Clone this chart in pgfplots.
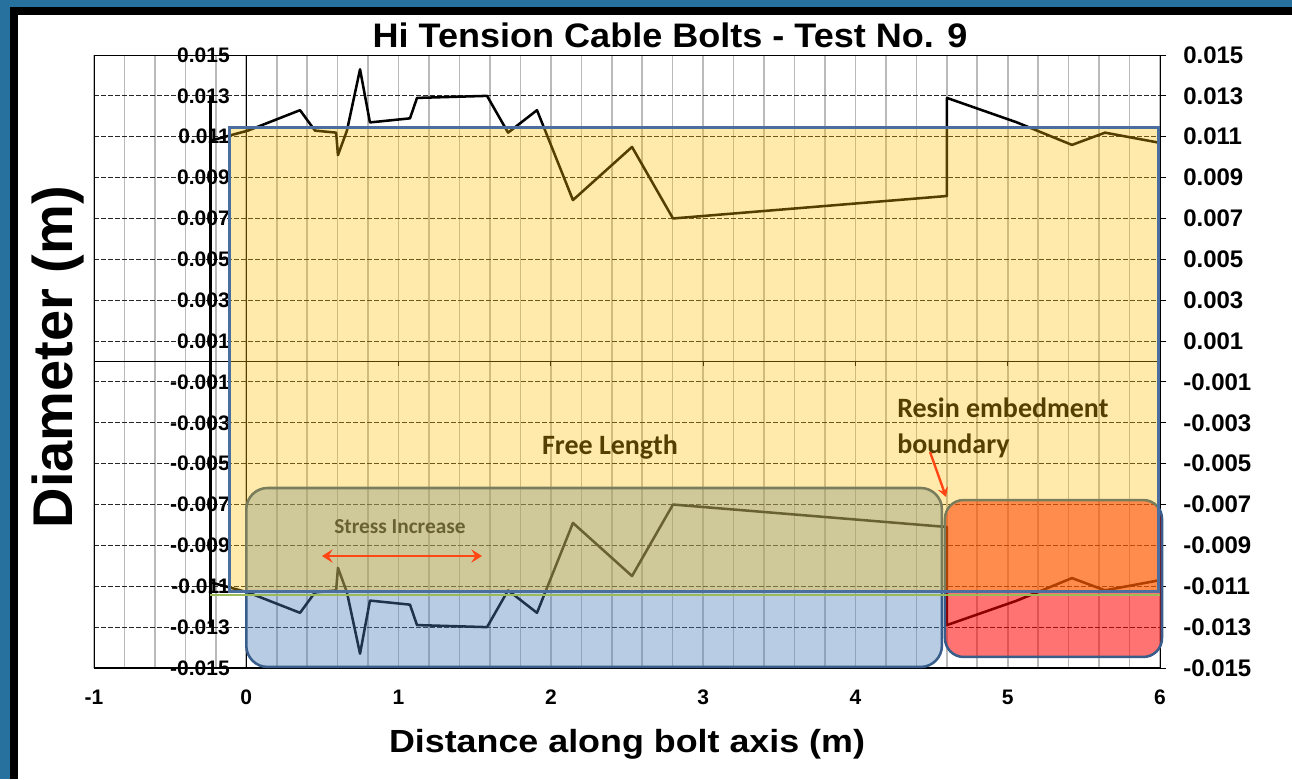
\documentclass[border=0pt]{standalone}
\usepackage{pgfplots}
\pgfplotsset{compat=1.18}
\usepackage{fontspec}
\setmainfont{Liberation Sans}
\newfontfamily\arialS[FakeStretch=1.06]{Liberation Sans}
\newfontfamily\arialX[FakeStretch=1.12]{Liberation Sans}
\newfontfamily\calibri{Carlito}
\usetikzlibrary{arrows.meta}
\definecolor{frameblue}{RGB}{38,113,158}
\definecolor{shyellow}{RGB}{255,192,0}
\definecolor{yborder}{RGB}{74,110,160}
\definecolor{shblue}{RGB}{79,129,189}
\definecolor{bborder}{RGB}{56,93,138}
\definecolor{shred}{RGB}{255,0,0}
\definecolor{lgreen}{RGB}{155,187,89}
\definecolor{arrowred}{RGB}{255,70,20}
\begin{document}
\begin{tikzpicture}
\useasboundingbox (0pt,0pt) rectangle (969pt,584.25pt);
\fill[white] (0pt,0pt) rectangle (969pt,584.25pt);
\begin{axis}[
  at={(70.5pt,83.25pt)}, anchor=south west,
  scale only axis, width=799.5pt, height=459.75pt,
  xmin=-1, xmax=6, ymin=-0.015, ymax=0.015,
  clip=false,
  scaled y ticks=false, scaled x ticks=false,
  axis line style={black, line width=0.75pt},
  xtick={-1,0,1,2,3,4,5,6},
  xticklabels={-1,0,1,2,3,4,5,6},
  minor x tick num=4,
  ytick={-0.015,-0.013,-0.011,-0.009,-0.007,-0.005,-0.003,-0.001,0.001,0.003,0.005,0.007,0.009,0.011,0.013,0.015},
  yticklabels={-0.015,-0.013,-0.011,-0.009,-0.007,-0.005,-0.003,-0.001,0.001,0.003,0.005,0.007,0.009,0.011,0.013,0.015},
  ytick pos=right, yticklabel pos=right,
  xtick pos=bottom,
  tick align=outside, major tick length=4.5pt,
  xtick style={draw=none}, minor tick style={draw=none},
  ytick style={black, line width=0.75pt},
  xmajorgrids, xminorgrids, ymajorgrids,
  x grid style={black!27, line width=1.2pt},
  y grid style={black!85, line width=0.75pt, dash pattern=on 3.75pt off 1.5pt},
  xticklabel style={font=\bfseries\fontsize{15.75}{18}\selectfont, inner sep=0pt, anchor=north, yshift=-11.6pt},
  yticklabel style={font=\bfseries\fontsize{18}{20}\selectfont, inner sep=0pt, anchor=west, xshift=12.75pt},
]
% data: upper profile
\addplot[black, line width=1.9pt, line join=round, mark=none] coordinates {
(-0.238,0.0108) (0.011,0.0113) (0.353,0.0123) (0.451,0.0113) (0.59,0.0112)
(0.602,0.0101) (0.661,0.0113) (0.747,0.0143) (0.812,0.0117) (1.075,0.0119)
(1.121,0.0129) (1.581,0.0130) (1.719,0.0112) (1.909,0.0123) (2.145,0.0079)
(2.533,0.0105) (2.802,0.0070) (4.601,0.0081) (4.601,0.0129) (5.061,0.0117)
(5.422,0.0106) (5.639,0.0112) (6.0,0.0107)
};
% data: lower profile
\addplot[black, line width=1.9pt, line join=round, mark=none] coordinates {
(-0.238,-0.0108) (0.011,-0.0113) (0.353,-0.0123) (0.451,-0.0113) (0.59,-0.0112)
(0.602,-0.0101) (0.661,-0.0113) (0.747,-0.0143) (0.812,-0.0117) (1.075,-0.0119)
(1.121,-0.0129) (1.581,-0.0130) (1.719,-0.0112) (1.909,-0.0123) (2.145,-0.0079)
(2.533,-0.0105) (2.802,-0.0070) (4.601,-0.0081) (4.601,-0.0129) (5.061,-0.0117)
(5.422,-0.0106) (5.639,-0.0112) (6.0,-0.0107)
};
% bolt head line
\addplot[black, line width=2.3pt, mark=none] coordinates {(-0.238,0.0130) (-0.238,-0.0130)};
% axis cross lines
\draw[black, line width=0.75pt] (axis cs:-1,0) -- (axis cs:6,0);
\draw[black, line width=0.75pt] (axis cs:0,-0.015) -- (axis cs:0,0.015);
\draw[black, line width=1.5pt] (axis cs:-1,-0.015) -- (axis cs:6,-0.015);
\pgfplotsinvokeforeach{-1,0,1,2,3,4,5,6}{\draw[black, line width=0.75pt] (axis cs:#1,0) -- ++(0pt,-3pt);}
% left-side labels
\pgfplotsinvokeforeach{0.015,0.013,0.011,0.009,0.007,0.005,0.003,0.001,-0.001,-0.003,-0.005,-0.007,-0.009,-0.011,-0.013,-0.015}{
  \node[anchor=east, inner sep=0pt, font=\bfseries\fontsize{15.75}{18}\selectfont] at (axis cs:-0.107,#1) {#1};
}
% annotation texts
\node[anchor=base, inner sep=0pt, font=\calibri\bfseries\fontsize{21}{24}\selectfont] at (axis cs:2.388,-0.00457) {Free Length};
\node[anchor=base west, inner sep=0pt, font=\calibri\bfseries\fontsize{21}{24}\selectfont] at (axis cs:4.273,-0.00276) {Resin embedment};
\node[anchor=base west, inner sep=0pt, font=\calibri\bfseries\fontsize{21}{24}\selectfont] at (axis cs:4.273,-0.00448) {boundary};
\node[anchor=base, inner sep=0pt, font=\calibri\bfseries\fontsize{16}{19}\selectfont] at (axis cs:1.009,-0.00843) {Stress Increase};
% shapes
\draw[bborder, line width=1.9pt, fill=shblue, fill opacity=0.4, draw opacity=1, rounded corners=16pt]
  (axis cs:0.0,-0.00619) rectangle (axis cs:4.568,-0.01495);
\draw[bborder, line width=1.9pt, fill=shred, fill opacity=0.55, draw opacity=1, rounded corners=14pt]
  (axis cs:4.588,-0.00678) rectangle (axis cs:6.013,-0.01446);
\draw[lgreen, line width=1.5pt] (axis cs:-0.238,-0.01142) -- (axis cs:6.0,-0.01142);
\draw[yborder, line width=2.25pt, fill=shyellow, fill opacity=0.33, draw opacity=1]
  (axis cs:-0.107,0.011476) rectangle (axis cs:5.987,-0.01128);
% arrows
\draw[arrowred, line width=2.2pt, {Stealth[length=8pt,width=10pt,inset=3pt]}-{Stealth[length=8pt,width=10pt,inset=3pt]}]
  (axis cs:0.497,-0.00952) -- (axis cs:1.548,-0.00952);
\draw[arrowred, line width=1.8pt, -{Stealth[length=7pt,width=8pt,inset=2.5pt]}]
  (axis cs:4.490,-0.00443) -- (axis cs:4.595,-0.00663);
\end{axis}
% outer frame
\fill[frameblue] (0pt,579pt) rectangle (969pt,584.25pt);
\fill[black] (7.5pt,573pt) rectangle (969pt,579pt);
\fill[frameblue] (0pt,0pt) rectangle (7.5pt,584.25pt);
\fill[black] (7.5pt,0pt) rectangle (13.5pt,579pt);
% titles
\node[anchor=base, inner sep=0pt, font=\arialS\bfseries\fontsize{25.5}{28}\selectfont] at (502.5pt,548.25pt) {Hi Tension Cable Bolts - Test No. 9};
\node[anchor=base, inner sep=0pt, font=\arialX\bfseries\fontsize{24}{28}\selectfont] at (470.25pt,20.25pt) {Distance along bolt axis (m)};
\node[anchor=base, rotate=90, inner sep=0pt, font=\bfseries\fontsize{42}{46}\selectfont] at (54pt,316.5pt) {Diameter (m)};
\end{tikzpicture}
\end{document}
